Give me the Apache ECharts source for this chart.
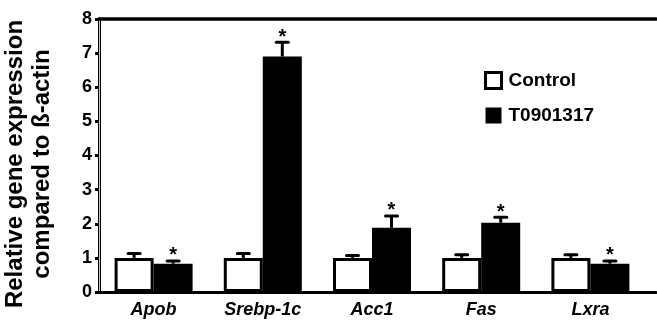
<!DOCTYPE html>
<html>
<head>
<meta charset="utf-8">
<script src="https://cdn.jsdelivr.net/npm/echarts@6/dist/echarts.min.js"></script>
<style>html,body{margin:0;padding:0;background:#fff}#c{width:657px;height:323px}</style>
</head>
<body>
<div id="c"></div>
<script>
var categories = ['Apob', 'Srebp-1c', 'Acc1', 'Fas', 'Lxra'];
var controlValues = [1.0, 1.0, 1.0, 1.0, 1.0];
var controlErrors = [0.13, 0.13, 0.07, 0.09, 0.09];
var treatedValues = [0.83, 6.9, 1.88, 2.03, 0.83];
var treatedErrors = [0.08, 0.42, 0.35, 0.16, 0.08];
var treatedStars = [true, true, true, true, true];
var yTicks = [0, 1, 2, 3, 4, 5, 6, 7, 8];

var FONT = '"Liberation Sans", Arial, Helvetica, sans-serif';
var BAR_W = 39;

function errData(vals, errs, stars) {
  return vals.map(function (v, i) { return [i, v, errs[i], stars ? (stars[i] ? 1 : 0) : 0]; });
}

function makeErrSeries(name, vals, errs, stars, offset) {
  return {
    type: 'custom',
    name: name + '_err',
    xAxisIndex: 0, yAxisIndex: 0,
    z: 5,
    silent: true,
    data: errData(vals, errs, stars),
    encode: { x: 0, y: 1 },
    renderItem: function (params, api) {
      var idx = api.value(0), v = api.value(1), e = api.value(2), s = api.value(3);
      var p0 = api.coord([idx, v]);
      var p1 = api.coord([idx, v + e]);
      var x = p0[0] + offset;
      var children = [
        { type: 'line', shape: { x1: x, y1: p0[1], x2: x, y2: p1[1] }, style: { stroke: '#000', lineWidth: 3 } },
        { type: 'line', shape: { x1: x - 6, y1: p1[1], x2: x + 6, y2: p1[1] }, style: { stroke: '#000', lineWidth: 3, lineCap: 'round' } }
      ];
      if (s) {
        children.push({ type: 'text', style: { text: '*', x: x, y: p1[1] + 5, textAlign: 'center', textVerticalAlign: 'bottom', font: 'bold 20px ' + FONT, fill: '#000' } });
      }
      return { type: 'group', children: children };
    }
  };
}

var chart = echarts.init(document.getElementById('c'), null, { renderer: 'canvas' });
chart.setOption({
  animation: false,
  backgroundColor: '#fff',
  grid: [
    { left: 99, right: 12, top: 19, bottom: 31 },
    { left: 99, right: 1, top: 19, bottom: 31 }
  ],
  legend: {
    orient: 'vertical', left: 479, top: 66, itemWidth: 16, itemHeight: 16, itemGap: 16,
    textStyle: { fontFamily: FONT, fontWeight: 'bold', fontSize: 19, color: '#000', padding: [0, 0, 0, 2] },
    data: [
      { name: 'Control', icon: 'rect', itemStyle: { color: '#fff', borderColor: '#000', borderWidth: 3 } },
      { name: 'T0901317', icon: 'rect', itemStyle: { color: '#000', borderWidth: 0 } }
    ]
  },
  xAxis: [
    {
      type: 'category', gridIndex: 0, data: categories,
      axisLine: { show: false }, axisTick: { show: false },
      axisLabel: { fontFamily: FONT, fontWeight: 'bold', fontStyle: 'italic', fontSize: 18, color: '#000', margin: 9 }
    },
    {
      type: 'value', gridIndex: 1, min: 0, max: 1, position: 'bottom',
      axisLine: { show: true, lineStyle: { color: '#000', width: 3 } },
      axisTick: { show: false }, axisLabel: { show: false }, splitLine: { show: false }
    },
    {
      type: 'value', gridIndex: 1, min: 0, max: 1, position: 'top',
      axisLine: { show: true, lineStyle: { color: '#000', width: 3.5 } },
      axisTick: { show: false }, axisLabel: { show: false }, splitLine: { show: false }
    }
  ],
  yAxis: [
    {
      type: 'value', gridIndex: 0, min: yTicks[0], max: yTicks[yTicks.length - 1], interval: 1,
      axisLine: { show: true, lineStyle: { color: '#000', width: 3 } },
      axisTick: { show: true, length: 4, lineStyle: { color: '#000', width: 3 } },
      axisLabel: { fontFamily: FONT, fontWeight: 'bold', fontSize: 18, color: '#000', margin: 7 },
      splitLine: { show: false }
    },
    {
      type: 'value', gridIndex: 1, min: 0, max: 1, position: 'right',
      axisLine: { show: true, lineStyle: { color: '#c8c8c8', width: 1 } },
      axisTick: { show: false }, axisLabel: { show: false }, splitLine: { show: false }
    }
  ],
  graphic: [
    {
      type: 'text', x: 29, y: 164, rotation: Math.PI / 2,
      style: {
        text: 'Relative gene expression\ncompared to ß-actin',
        textAlign: 'center', textVerticalAlign: 'middle',
        font: 'bold 24px ' + FONT, lineHeight: 27, fill: '#000'
      }
    }
  ],
  series: [
    {
      type: 'bar', name: 'Control', xAxisIndex: 0, yAxisIndex: 0, barWidth: BAR_W, barGap: '0%',
      data: controlValues,
      itemStyle: { color: '#fff', borderColor: '#000', borderWidth: 3 }
    },
    {
      type: 'bar', name: 'T0901317', xAxisIndex: 0, yAxisIndex: 0, barWidth: BAR_W, barGap: '0%',
      data: treatedValues,
      itemStyle: { color: '#000' }
    },
    makeErrSeries('Control', controlValues, controlErrors, null, -BAR_W / 2),
    makeErrSeries('T0901317', treatedValues, treatedErrors, treatedStars, BAR_W / 2)
  ]
});
</script>
</body>
</html>
